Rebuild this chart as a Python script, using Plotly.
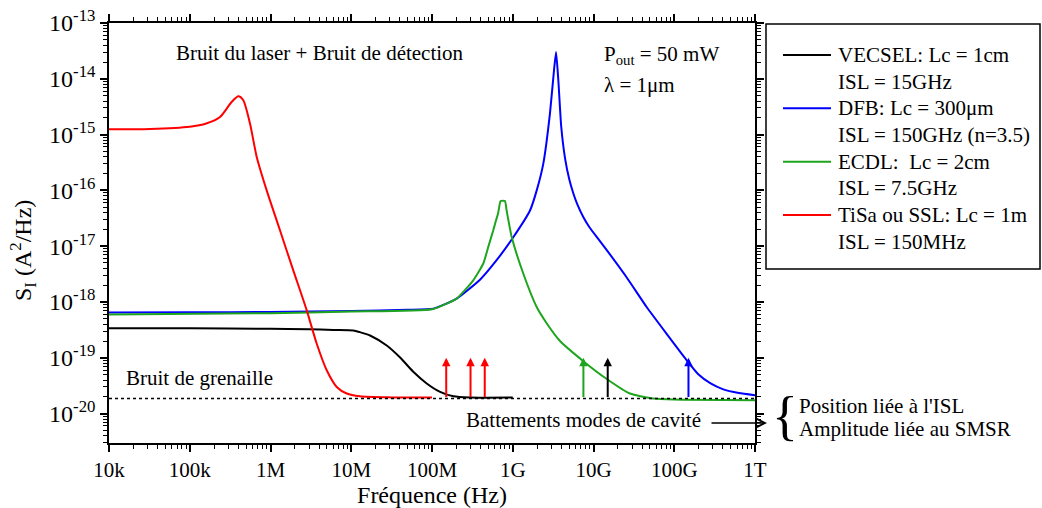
import math
import plotly.graph_objects as go

# ---------------- data ----------------
freq_ticks = [1e4, 1e5, 1e6, 1e7, 1e8, 1e9, 1e10, 1e11, 1e12]
freq_tick_labels = ["10k", "100k", "1M", "10M", "100M", "1G", "10G", "100G", "1T"]
s_ticks = [1e-20, 1e-19, 1e-18, 1e-17, 1e-16, 1e-15, 1e-14, 1e-13]
s_tick_labels = ["10<sup>-20</sup>", "10<sup>-19</sup>", "10<sup>-18</sup>", "10<sup>-17</sup>",
                 "10<sup>-16</sup>", "10<sup>-15</sup>", "10<sup>-14</sup>", "10<sup>-13</sup>"]

# VECSEL (black)
vecsel_f = [1e4, 1e5, 1e6, 3e6, 6e6, 1.06e7, 1.28e7, 1.71e7, 2.75e7, 4.0e7, 5.86e7, 8.6e7,
            1.26e8, 1.84e8, 2.95e8, 1.0e9]
vecsel_s = [3.39e-19, 3.39e-19, 3.31e-19, 3.24e-19, 3.16e-19, 3.09e-19, 2.88e-19, 2.51e-19,
            1.66e-19, 1.02e-19, 5.62e-20, 3.47e-20, 2.45e-20, 2.04e-20, 1.94e-20, 1.94e-20]

# DFB (blue)
dfb_f = [1e4, 1e5, 1e6, 1e7, 5.0e7, 1.04e8, 2.02e8, 3.93e8, 6.31e8, 1.02e9, 1.64e9, 1.98e9,
         2.39e9, 2.89e9, 3.24e9, 3.44e9, 3.67e9, 3.98e9, 4.47e9, 5.01e9, 5.62e9, 6.31e9,
         7.50e9, 8.91e9, 1.12e10, 1.46e10, 2.58e10, 4.55e10, 8.05e10, 1.42e11, 2.0e11,
         2.82e11, 3.98e11, 6.31e11, 1e12]
dfb_s = [6.46e-19, 6.53e-19, 6.61e-19, 6.92e-19, 7.24e-19, 7.59e-19, 1.15e-18, 2.51e-18,
         5.62e-18, 1.46e-17, 4.40e-17, 1.0e-16, 3.02e-16, 2.40e-15, 1.41e-14, 3.02e-14,
         9.33e-15, 1.41e-15, 3.55e-16, 1.58e-16, 8.91e-17, 5.62e-17, 3.31e-17, 2.19e-17,
         1.41e-17, 8.51e-18, 2.75e-18, 8.13e-19, 2.69e-19, 9.12e-20, 5.01e-20, 3.47e-20,
         2.75e-20, 2.34e-20, 2.14e-20]

# ECDL (green)
ecdl_f = [1e4, 1e6, 1e7, 1e8, 2.02e8, 3.24e8, 4.32e8, 4.98e8, 5.74e8, 6.03e8, 6.61e8, 7.08e8,
          8.0e8, 8.39e8, 9.71e8, 1.35e9, 1.98e9, 2.63e9, 3.85e9, 7.48e9, 1.46e10, 2.83e10,
          5.5e10, 1e11, 1e12]
ecdl_s = [5.94e-19, 6.31e-19, 6.76e-19, 7.41e-19, 1.15e-18, 2.45e-18, 4.90e-18, 9.77e-18,
          1.93e-17, 2.51e-17, 3.98e-17, 6.46e-17, 6.46e-17, 4.40e-17, 1.46e-17, 3.24e-18,
          8.13e-19, 4.17e-19, 2.0e-19, 8.7e-20, 4.17e-20, 2.29e-20, 1.86e-20, 1.78e-20,
          1.74e-20]

# TiSa / SSL (red)
tisa_f = [1.0e4, 3.2e4, 1.0e5, 1.6e5, 2.37e5, 3.3e5, 4.0e5, 4.6e5, 5.57e5, 6.75e5, 8.97e5,
          1.31e6, 1.91e6, 2.81e6, 3.73e6, 4.97e6, 6.61e6, 8.79e6, 1.28e7, 3.16e7, 1.0e8]
tisa_s = [1.245e-15, 1.26e-15, 1.38e-15, 1.58e-15, 2.07e-15, 3.84e-15, 4.85e-15, 4.12e-15,
          1.58e-15, 3.98e-16, 1.0e-16, 1.93e-17, 3.72e-18, 7.08e-19, 1.80e-19, 5.97e-20,
          3.0e-20, 2.29e-20, 2.04e-20, 1.95e-20, 1.94e-20]

# shot noise floor (dashed)
shot_f = [1e4, 1e12]
shot_s = [1.86e-20, 1.86e-20]

# cavity mode beat arrows
beat_f = [1.5e8, 3.0e8, 4.5e8, 7.5e9, 1.5e10, 1.5e11]
beat_series = ["tisa", "tisa", "tisa", "ecdl", "vecsel", "dfb"]
beat_top = 1.0e-19

legend_names = ["VECSEL: Lc = 1cm", "DFB: Lc = 300\u03bcm", "ECDL:\u00a0 Lc = 2cm", "TiSa ou SSL: Lc = 1m"]
legend_isl = ["ISL = 15GHz", "ISL = 150GHz (n=3.5)", "ISL = 7.5GHz", "ISL = 150MHz"]
legend_keys = ["vecsel", "dfb", "ecdl", "tisa"]

colors = {"vecsel": "#000000", "dfb": "#0000ff", "ecdl": "#1ea51e", "tisa": "#ff0000"}

# ---------------- layout geometry (pixels) ----------------
W, H = 1042, 508
L, R, T, B = 109, 755, 23, 443
FONT = "Liberation Serif"


def px_x(px):
    return (px - L) / (R - L)


def px_y(py):
    return (B - py) / (B - T)


fig = go.Figure()

series = [("vecsel", vecsel_f, vecsel_s, 0.7),
          ("dfb", dfb_f, dfb_s, 0.45),
          ("ecdl", ecdl_f, ecdl_s, 0.5),
          ("tisa", tisa_f, tisa_s, 0.7)]
for key, fx, sy, sm in series:
    fig.add_trace(go.Scatter(x=fx, y=sy, mode="lines",
                             line=dict(color=colors[key], width=2, shape="spline", smoothing=sm),
                             showlegend=False, hoverinfo="skip"))

fig.add_trace(go.Scatter(x=shot_f, y=shot_s, mode="lines",
                         line=dict(color="black", width=1.5, dash="3px,3px"),
                         showlegend=False, hoverinfo="skip"))

annotations = []
# beat arrows
for f, key in zip(beat_f, beat_series):
    annotations.append(dict(
        x=math.log10(f), y=math.log10(beat_top), xref="x", yref="y",
        ax=math.log10(f), ay=math.log10(shot_s[0]), axref="x", ayref="y",
        text="", showarrow=True, arrowhead=2, arrowsize=0.85, arrowwidth=2,
        arrowcolor=colors[key]))


def label(text, px, py, xanchor="left", size=21, angle=0):
    annotations.append(dict(text=text, x=px_x(px), y=px_y(py), xref="paper", yref="paper",
                            xanchor=xanchor, yanchor="middle", showarrow=False, textangle=angle,
                            font=dict(family=FONT, size=size, color="black")))


label("Bruit du laser + Bruit de détection", 174, 53)
label("P<sub>out</sub> = 50 mW", 602, 55)
label("\u03bb = 1\u03bcm", 602, 85)
label("Bruit de grenaille", 124, 378)
label("Battements modes de cavité", 464, 420)
label("{", 785, 416, xanchor="center", size=54)
label("Position liée à l'ISL", 797, 406)
label("Amplitude liée au SMSR", 797, 429)
# y-axis title
label("S<sub>I</sub> (A<sup>2</sup>/Hz)", 23, 251, xanchor="center", size=24, angle=-90)

# arrow to the brace
annotations.append(dict(x=px_x(767), y=px_y(423), xref="paper", yref="paper",
                        ax=-57, ay=0, text="", showarrow=True, arrowhead=5,
                        arrowsize=1.2, arrowwidth=1.5, arrowcolor="black"))

# manual legend
shapes = [dict(type="rect", xref="paper", yref="paper",
               x0=px_x(766), x1=px_x(1040), y0=px_y(269), y1=px_y(24),
               line=dict(color="black", width=1.5), fillcolor="rgba(0,0,0,0)")]
row0, dy = 55.0, 26.67
for i, key in enumerate(legend_keys):
    yr = row0 + 2 * i * dy
    shapes.append(dict(type="line", xref="paper", yref="paper",
                       x0=px_x(783), x1=px_x(831), y0=px_y(yr), y1=px_y(yr),
                       line=dict(color=colors[key], width=2)))
    label(legend_names[i], 836, yr)
    label(legend_isl[i], 836, yr + dy)

axis_common = dict(showline=True, linecolor="black", linewidth=1.5, mirror="allticks",
                   ticks="outside", ticklen=7, tickwidth=1.5, tickcolor="black",
                   showgrid=False, zeroline=False,
                   minor=dict(ticks="outside", ticklen=4, tickwidth=1, tickcolor="black",
                              dtick="D1", showgrid=False))

fig.update_layout(
    width=W, height=H,
    margin=dict(l=L, r=W - R, t=T, b=H - B, autoexpand=False),
    paper_bgcolor="white", plot_bgcolor="white",
    font=dict(family=FONT, size=20, color="black"),
    showlegend=False,
    xaxis=dict(type="log", range=[4, 12], tickmode="array", tickvals=freq_ticks,
               ticktext=freq_tick_labels,
               tickfont=dict(family=FONT, size=21, color="black"),
               title=dict(text="Fréquence (Hz)", font=dict(family=FONT, size=24), standoff=6),
               **axis_common),
    yaxis=dict(type="log", range=[-20.527, -13], tickmode="array", tickvals=s_ticks,
               ticktext=s_tick_labels,
               tickfont=dict(family=FONT, size=24, color="black"),
               **axis_common),
    annotations=annotations,
    shapes=shapes,
)

fig.write_html("out.html", config={"displayModeBar": False},
               post_script="document.body.style.margin='0';document.body.style.overflow='hidden';")
